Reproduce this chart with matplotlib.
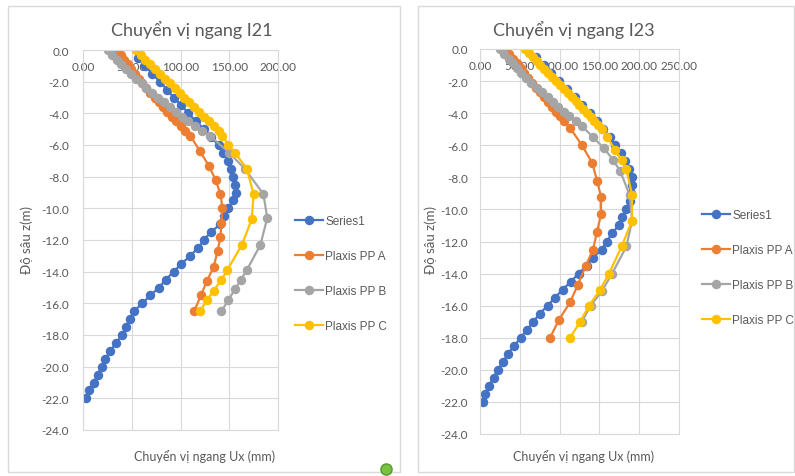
import matplotlib
matplotlib.use("Agg")
import matplotlib.pyplot as plt
from matplotlib.patches import Rectangle
from matplotlib.lines import Line2D
from matplotlib.ticker import FormatStrFormatter, MultipleLocator

plt.rcParams['font.family'] = ['Lato', 'Noto Sans', 'DejaVu Sans']

# ---- data: I21 ----
i21_s1_z = [-0.5, -1, -1.5, -2, -2.5, -3, -3.5, -4, -4.5, -5, -5.5, -6, -6.5, -7, -7.5,
            -8, -8.5, -9, -9.5, -10, -10.5, -11, -11.5, -12, -12.5, -13, -13.5, -14,
            -14.5, -15, -15.5, -16, -16.5, -17, -17.5, -18, -18.5, -19, -19.5, -20,
            -20.5, -21, -21.5, -22]
i21_s1_u = [56, 64, 71, 79, 86, 93, 101, 108, 116, 124, 131, 139, 144, 149, 152,
            154, 156, 157, 154, 149, 145, 141, 131, 124, 118, 110, 101, 93,
            85, 78, 69, 61, 52, 48, 44, 40, 34, 28, 23, 19,
            15, 11, 6, 3]
i21_a_z = [0, -0.3, -0.6, -0.9, -1.2, -1.5, -1.8, -2.1, -2.4, -2.7, -3.0, -3.3, -3.6,
           -3.9, -4.2, -4.5, -4.8, -5.1, -5.4,
           -6.4, -7.3, -8.2, -9.1, -10.0, -10.9, -11.8, -12.7, -13.7, -14.6, -15.5, -16.5]
i21_a_u = [36, 39, 42, 46, 49, 53, 57, 61, 65, 69, 74, 78, 82,
           86, 91, 95, 100, 105, 110,
           120, 129, 136, 141, 143, 142, 141, 138, 134, 127, 121, 114]
i21_b_z = [0, -0.3, -0.6, -0.9, -1.2, -1.5, -1.8, -2.1, -2.4, -2.7, -3.0, -3.3, -3.6,
           -3.9, -4.2, -4.5, -4.8, -5.1, -5.4,
           -6.5, -7.5, -9.1, -10.6, -12.3, -13.9, -14.5, -15.1, -15.8, -16.5]
i21_b_u = [26, 30, 35, 39, 44, 49, 54, 60, 65, 71, 77, 83, 89,
           95, 102, 108, 115, 122, 130,
           150, 166, 185, 189, 182, 168, 162, 156, 149, 142]
i21_c_z = [0, -0.3, -0.6, -0.9, -1.2, -1.5, -1.8, -2.1, -2.4, -2.7, -3.0, -3.3, -3.6,
           -3.9, -4.2, -4.5, -4.8, -5.1, -5.4,
           -6.0, -6.5, -7.5, -9.1, -10.7, -12.3, -13.9, -14.5, -15.2, -15.8, -16.5]
i21_c_u = [54, 59, 64, 69, 74, 79, 84, 89, 94, 99, 104, 109, 114,
           119, 124, 129, 134, 139, 143,
           149, 156, 168, 175, 173, 163, 148, 142, 134, 127, 120]

# ---- data: I23 ----
i23_s1_z = i21_s1_z
i23_s1_u = [70, 80, 89, 99, 109, 119, 128, 138, 147, 155, 163, 170, 177, 182, 187,
            191, 191, 190, 188, 184, 179, 174, 166, 159, 153, 142, 134, 124,
            114, 104, 94, 85, 75, 67, 59, 51, 43, 35, 29, 22,
            17, 11, 6, 4]
i23_a_z = [0, -0.3, -0.6, -0.9, -1.2, -1.5, -1.8, -2.1, -2.4, -2.7, -3.0, -3.3, -3.6,
           -3.9, -4.2, -4.5, -4.9,
           -6.0, -7.1, -8.2, -9.2, -10.3, -11.4, -12.5, -13.5, -14.7, -15.8, -16.9, -18.0]
i23_a_u = [33, 37, 42, 46, 51, 55, 60, 65, 70, 75, 80, 85, 90,
           95, 100, 106, 113,
           128, 141, 147, 152, 152, 147, 142, 133, 123, 113, 99, 88]
i23_b_z = [0, -0.3, -0.6, -0.9, -1.2, -1.5, -1.8, -2.1, -2.4, -2.7, -3.0, -3.3, -3.6,
           -3.9, -4.2, -4.5, -4.8,
           -5.5, -6.2, -6.9, -7.6, -9.1, -10.7, -12.3, -14.0, -15.1, -16.0, -17.0]
i23_b_u = [25, 30, 36, 41, 47, 52, 58, 64, 71, 78, 85, 92, 98,
           105, 112, 120, 128,
           142, 156, 167, 176, 188, 191, 184, 166, 153, 139, 128]
i23_c_z = [0, -0.25, -0.5, -0.75, -1.0, -1.25, -1.5, -1.75, -2.0, -2.25, -2.5, -2.75,
           -3.0, -3.25, -3.5, -3.75, -4.0, -4.25, -4.5, -4.75, -5.0,
           -5.5, -6.3, -6.9, -7.5, -9.1, -10.7, -12.3, -14.0, -15.0, -16.0, -17.0, -18.0]
i23_c_u = [57, 62, 67, 71, 76, 81, 86, 91, 95, 100, 105, 110,
           115, 120, 124, 129, 134, 139, 143, 148, 153,
           160, 170, 178, 184, 191, 191, 178, 162, 151, 137, 126, 113]

labels = ["Series1", "Plaxis PP A", "Plaxis PP B", "Plaxis PP C"]
colors = ["#4472C4", "#ED7D31", "#A5A5A5", "#FFC000"]
grid_c = "#D9D9D9"
text_c = "#595959"

W, H = 795, 477
fig = plt.figure(figsize=(W / 100, H / 100), dpi=100)


def px(x0, y0, x1, y1):
    return [x0 / W, 1 - y1 / H, (x1 - x0) / W, (y1 - y0) / H]


# chart boxes
for bx in [(8, 7, 400, 473), (418, 7, 794, 473)]:
    fig.add_artist(Rectangle((bx[0] / W, 1 - bx[3] / H), (bx[2] - bx[0]) / W,
                             (bx[3] - bx[1]) / H, transform=fig.transFigure,
                             fill=False, edgecolor=grid_c, lw=1))


def draw(rect, series, xmax, title, title_x, xlab_x, ylab_x, leg_xy, ypad):
    ax = fig.add_axes(rect)
    lines = []
    for (z, u), c, lab in zip(series, colors, labels):
        ln, = ax.plot(u, z, color=c, lw=1.6, marker='o', ms=5.8, label=lab)
        lines.append(ln)
    ax.set_xlim(0, xmax)
    ax.set_ylim(-24, 0)
    ax.xaxis.set_major_locator(MultipleLocator(50))
    ax.yaxis.set_major_locator(MultipleLocator(2))
    ax.xaxis.set_major_formatter(FormatStrFormatter('%.2f'))
    ax.yaxis.set_major_formatter(FormatStrFormatter('%.1f'))
    ax.xaxis.set_ticks_position('top')
    ax.tick_params(axis='x', length=0, pad=-16, labelsize=8.5, labelcolor=text_c)
    ax.tick_params(axis='y', length=0, pad=ypad, labelsize=8.5, labelcolor=text_c)
    ax.grid(True, color=grid_c, lw=0.8)
    for s in ax.spines.values():
        s.set_color(grid_c)
        s.set_linewidth(0.8)
    ax.set_axisbelow(True)
    fig.text(title_x / W, 1 - 30 / H, title, ha='center', va='center',
             fontsize=13, color=text_c)
    fig.text(xlab_x / W, 1 - 457 / H, "Chuyển vị ngang Ux (mm)", ha='center',
             va='center', fontsize=9, color=text_c)
    fig.text(ylab_x / W, 1 - 240 / H, "Độ sâu z(m)", ha='center', va='center',
             rotation=90, fontsize=9.5, color=text_c)
    fig.legend(handles=lines, loc='upper left',
               bbox_to_anchor=(leg_xy[0] / W, 1 - leg_xy[1] / H),
               frameon=False, borderpad=0, labelspacing=1.95, handlelength=2.4,
               handletextpad=0.15, prop={'family': 'Liberation Sans', 'size': 8.5},
               labelcolor=text_c)
    return ax


draw(px(83, 51, 278, 431),
     [(i21_s1_z, i21_s1_u), (i21_a_z, i21_a_u), (i21_b_z, i21_b_u), (i21_c_z, i21_c_u)],
     200, "Chuyển vị ngang I21", 192, 205, 27, (289, 210), 10)
draw(px(480, 50, 679, 435),
     [(i23_s1_z, i23_s1_u), (i23_a_z, i23_a_u), (i23_b_z, i23_b_u), (i23_c_z, i23_c_u)],
     250, "Chuyển vị ngang I23", 574, 584, 431, (696, 204), 8.5)

# small green status dot in the corner
fig.add_artist(Line2D([386 / W], [1 - 470 / H], transform=fig.transFigure,
                      marker='o', ms=8, color='#7CC242', mec='#4E9A2A'))

fig.savefig("out.png", dpi=100)
